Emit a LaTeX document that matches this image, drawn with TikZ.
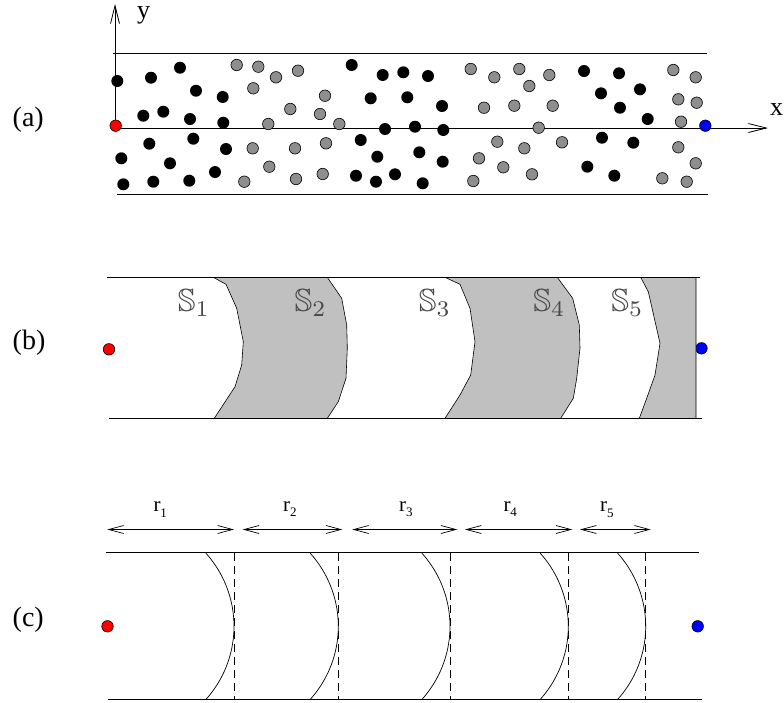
\documentclass[tikz,border=0pt]{standalone}
\usepackage[no-math]{fontspec}
\setmainfont{Liberation Serif}
\usepackage{amssymb}
\usetikzlibrary{arrows.meta}
\definecolor{dotgray}{RGB}{142,142,142}
\definecolor{regiongray}{RGB}{192,192,192}
\definecolor{labelgray}{RGB}{72,72,72}
\begin{document}
\begin{tikzpicture}[x=1pt,y=-1pt,
  rail/.style={line width=0.8pt},
  axisline/.style={line width=0.8pt,-{Straight Barb[length=18pt,width=9pt]}},
  dimline/.style={line width=0.7pt,{Straight Barb[length=15pt,width=8pt]}-{Straight Barb[length=15pt,width=8pt]}},
  blackdot/.style={circle,fill=black,inner sep=0pt,minimum size=12pt},
  graydot/.style={circle,draw=black,line width=0.6pt,fill=dotgray,inner sep=0pt,minimum size=11.5pt},
  reddot/.style={circle,draw=black,line width=0.6pt,fill=red,inner sep=0pt,minimum size=11.5pt},
  bluedot/.style={circle,draw=black,line width=0.6pt,fill=blue,inner sep=0pt,minimum size=11.5pt},
  panellabel/.style={font=\fontsize{28}{32}\selectfont,anchor=base west,inner sep=0pt},
  axislabel/.style={font=\fontsize{26}{30}\selectfont,anchor=base west,inner sep=0pt},
  rlabel/.style={font=\fontsize{21}{24}\selectfont,anchor=base west,inner sep=0pt},
  slabel/.style={text=labelgray,scale=3.2,anchor=base west,inner sep=0pt},
  region/.style={fill=regiongray,draw=black,line width=0.6pt},
  wavefront/.style={line width=0.7pt},
  guide/.style={line width=0.7pt,dash pattern=on 8pt off 5pt}]
\useasboundingbox (0,0) rectangle (784,702);

% ---------------- (a) ----------------
\node[panellabel] (la) at (12.5,126) {(a)};
\coordinate (atl) at (113,53);  \coordinate (atr) at (707,53);
\coordinate (abl) at (117,194); \coordinate (abr) at (708,194);
\coordinate (org) at (115,128);
\coordinate (xend) at (768,128);
\coordinate (yend) at (115,4);
\draw[rail] (atl) -- (atr);
\draw[rail] (abl) -- (abr);
\draw[axisline] (org) -- (xend);
\draw[axisline] (org) -- (yend);
\node[axislabel] (ylab) at (137,18) {y};
\node[axislabel] (xlab) at (770,115) {x};

\foreach \px/\py in {117.3/81,151/77.7,180/67.7,196/90.7,222.7/97,143.3/115.7,163.3/111.7,190/119,223.3/122.7,149.3/143.7,193.3/138.7,226/149,121.3/158.3,170/163.3,123.3/184.3,153.3/181.7,189.3/180.7,215/172,351.7/65,382.7/75,403.3/72.3,428/76,370.7/98.3,407.3/97.3,442/106,385/129,415/126.7,443.3/130,360.7/140,377.3/156.7,419.3/152.3,442.7/161.7,356/175.7,376/181.7,395/174.3,422.7/183.3,584/71,619/73.3,601/93.3,640/89.3,620/107.7,647.7/119,602/137.7,633.3/142.7,587.3/166.7,614.3/175.7}
  \node[blackdot] at (\px,\py) {};
\foreach \px/\py in {236.7/65,258.3/66.7,276/77.3,298/70.7,253.3/88.3,325/95.7,290.3/109,320/114,268.3/124,339.3/124,252.7/148.3,295/148.3,326/143.3,269.3/166.7,244.3/181.7,296/179,322.7/174,470.7/69,494.3/77.3,519.3/69,529.3/86,549.3/75,484/107.7,514.3/105.7,552.7/105.7,538.7/127.7,497.3/141.7,524.3/148.3,562/142.3,479/158.3,503.3/167.3,532/174.3,473.3/181,673.3/70,695.7/77.3,678.3/99.3,696.7/102.7,681/121.7,678.3/147.3,695.7/163.3,662.3/178.3,686.7/181.7}
  \node[graydot] at (\px,\py) {};
\node[reddot] (ra) at (115.7,125.7) {};
\node[bluedot] (ba) at (705.3,125.7) {};

% ---------------- (b) ----------------
\node[panellabel] (lb) at (12.5,349) {(b)};
\node[reddot] (rb) at (109,349.3) {};
\node[bluedot] (bb) at (701.5,348.3) {};
\draw[region] (213.3,277.3) -- (226,284.3) -- (236.7,308.3) -- (243.3,341.7) -- (241.7,365) -- (235,386.7) -- (214.3,418.3)
  -- (327.3,418.3) -- (338.3,401.7) -- (346,378.3) -- (347.3,348) -- (346.7,325) -- (341.7,298.3) -- (327.3,277.3) -- cycle;
\draw[region] (445,277.3) -- (460,284.3) -- (470,308.3) -- (475,341.7) -- (470.7,375) -- (460,395) -- (445,418.3)
  -- (560.7,418.3) -- (573.3,398.3) -- (576.7,378.3) -- (580,348) -- (579.3,325) -- (572.7,298.3) -- (557.3,277.3) -- cycle;
\draw[region] (640.7,277.3) -- (648.3,291.7) -- (660,343.3) -- (655,375) -- (646.7,398.3) -- (639.3,418.3)
  -- (696,418.3) -- (696,277.3) -- cycle;
\coordinate (btl) at (107,277.3);  \coordinate (btr) at (700,277.3);
\coordinate (bbl) at (109,418.3);  \coordinate (bbr) at (701.7,418.3);
\draw[rail] (btl) -- (btr);
\draw[rail] (bbl) -- (bbr);
\node[slabel] (s1) at (177.3,311.5) {$\mathbb{S}_1$};
\node[slabel] (s2) at (294,311.5) {$\mathbb{S}_2$};
\node[slabel] (s3) at (418.3,311.5) {$\mathbb{S}_3$};
\node[slabel] (s4) at (532.7,311.5) {$\mathbb{S}_4$};
\node[slabel] (s5) at (610.7,311.5) {$\mathbb{S}_5$};

% ---------------- (c) ----------------
\node[panellabel] (lc) at (12.5,626) {(c)};
\node[reddot] (rc) at (107.5,626.3) {};
\node[bluedot] (bc) at (697.7,626.3) {};
\coordinate (ctl) at (106,552.7);  \coordinate (ctr) at (699,552.7);
\coordinate (cbl) at (108,699.3);  \coordinate (cbr) at (701.7,699.3);
\draw[rail] (ctl) -- (ctr);
\draw[rail] (cbl) -- (cbr);
\foreach \v in {234,338.3,450,568.3,645.7} {
  \draw[wavefront] plot[domain=-42:42,samples=40,variable=\t] ({\v-109.2+109.2*cos(\t)},{626.3+109.2*sin(\t)});
  \draw[guide] (\v,553.3) -- (\v,699.3);
}
\coordinate (d1a) at (107.3,529.5); \coordinate (d1b) at (234,529.5);
\coordinate (d2a) at (242.7,529.5); \coordinate (d2b) at (342.3,529.5);
\coordinate (d3a) at (352.3,529.5); \coordinate (d3b) at (457.3,529.5);
\coordinate (d4a) at (465,529.5);   \coordinate (d4b) at (572.3,529.5);
\coordinate (d5a) at (580,529.5);   \coordinate (d5b) at (650.7,529.5);
\draw[dimline] (d1a) -- (d1b);
\draw[dimline] (d2a) -- (d2b);
\draw[dimline] (d3a) -- (d3b);
\draw[dimline] (d4a) -- (d4b);
\draw[dimline] (d5a) -- (d5b);
\node[rlabel] (r1) at (153.3,511.3) {r\raisebox{-6.5pt}{\fontsize{13}{15}\selectfont 1}};
\node[rlabel] (r2) at (283,511.3) {r\raisebox{-5pt}{\fontsize{13}{15}\selectfont 2}};
\node[rlabel] (r3) at (399,511.3) {r\raisebox{-5pt}{\fontsize{13}{15}\selectfont 3}};
\node[rlabel] (r4) at (503.3,511.3) {r\raisebox{-5pt}{\fontsize{13}{15}\selectfont 4}};
\node[rlabel] (r5) at (600,511.3) {r\raisebox{-6.5pt}{\fontsize{13}{15}\selectfont 5}};
\end{tikzpicture}
\end{document}
